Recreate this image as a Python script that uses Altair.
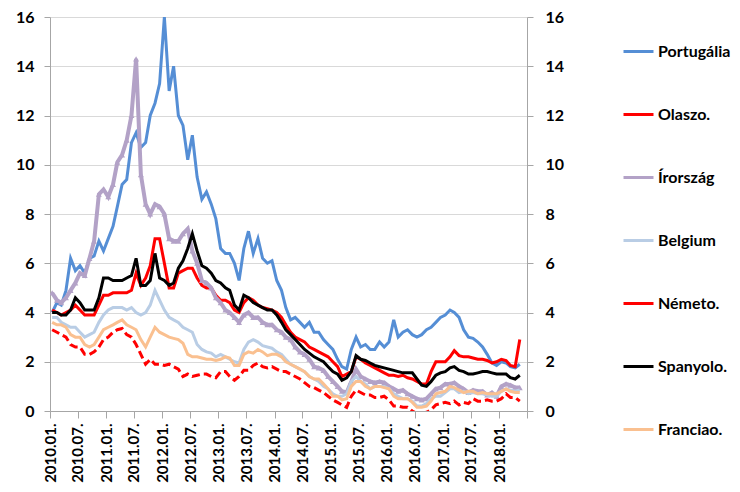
import altair as alt
import pandas as pd

series_names = ["Portugália", "Olaszo.", "Írország", "Belgium", "Németo.", "Spanyolo.", "Franciao."]
series_colors = ["#558ED5", "#FF0000", "#B3A2C7", "#B9CDE5", "#FF0000", "#000000", "#FAC090"]

# monthly values, 2010-01 ... 2018-05
portugal = [
    4.0, 4.4, 4.3, 4.9, 6.2, 5.7, 5.9, 5.6, 6.2, 6.3, 6.9, 6.5,
    7.0, 7.5, 8.3, 9.2, 9.4, 10.9, 11.3, 10.7, 10.9, 12.0, 12.5, 13.3,
    16.0, 13.0, 14.0, 12.0, 11.6, 10.2, 11.2, 9.5, 8.6, 8.9, 8.4, 7.8,
    6.6, 6.4, 6.4, 6.0, 5.3, 6.6, 7.3, 6.4, 7.0, 6.2, 6.0, 6.1,
    5.3, 4.9, 4.2, 3.7, 3.8, 3.6, 3.4, 3.6, 3.2, 3.2, 2.9, 2.7,
    2.5, 2.1, 1.8, 1.7, 2.5, 3.0, 2.6, 2.7, 2.5, 2.5, 2.8, 2.6,
    2.8, 3.7, 3.0, 3.2, 3.3, 3.1, 3.0, 3.1, 3.3, 3.4, 3.6, 3.8,
    3.9, 4.1, 4.0, 3.8, 3.3, 3.0, 2.95, 2.8, 2.6, 2.3, 1.95, 1.85,
    2.0, 1.95, 1.8, 1.75, 1.9,
]
italy = [
    4.1, 4.0, 3.9, 4.0, 4.1, 4.3, 4.1, 3.9, 3.9, 3.9, 4.3, 4.7,
    4.7, 4.8, 4.8, 4.8, 4.8, 4.9, 5.6, 5.1, 5.4, 5.9, 7.0, 7.0,
    6.0, 5.0, 5.0, 5.6, 5.7, 5.8, 5.8, 5.4, 5.1, 5.0, 5.0, 4.7,
    4.5, 4.5, 4.4, 4.1, 4.0, 4.4, 4.6, 4.5, 4.3, 4.2, 4.15, 4.1,
    4.0, 3.8, 3.5, 3.2, 3.0, 2.9, 2.8, 2.6, 2.5, 2.4, 2.3, 2.2,
    2.0, 1.8, 1.4, 1.5, 1.6, 2.2, 2.1, 1.95, 1.85, 1.75, 1.65, 1.55,
    1.45, 1.45, 1.4, 1.45, 1.35, 1.3, 1.2, 1.1, 1.1, 1.6, 2.0, 2.0,
    2.0, 2.2, 2.45, 2.25, 2.2, 2.2, 2.15, 2.1, 2.1, 2.05, 1.95, 2.0,
    2.1, 2.05, 1.85, 1.8, 2.9,
]
ireland = [
    4.8, 4.5, 4.4, 4.6, 4.9, 5.2, 5.6, 5.5, 6.2, 6.9, 8.8, 9.0,
    8.7, 9.2, 10.1, 10.4, 11.0, 12.0, 14.3, 9.6, 8.4, 8.0, 8.4, 8.3,
    8.0, 7.0, 6.9, 6.9, 7.2, 7.4, 6.5, 6.0, 5.3, 5.2, 5.0, 4.6,
    4.4, 4.1, 4.0, 3.8, 3.6, 3.9, 4.0, 3.8, 3.8, 3.6, 3.5, 3.5,
    3.3, 3.2, 3.0, 2.9, 2.6, 2.4, 2.3, 2.1, 1.8, 1.75, 1.65, 1.4,
    1.2, 1.0, 0.8, 0.75, 1.2, 1.7, 1.4, 1.3, 1.2, 1.15, 1.2, 1.15,
    1.0, 0.9, 0.8, 0.85, 0.7, 0.6, 0.5, 0.45, 0.5, 0.7, 0.9, 0.95,
    1.1, 1.1, 1.15, 1.0, 0.9, 0.75, 0.85, 0.8, 0.8, 0.65, 0.75, 0.6,
    1.0, 1.1, 1.05, 0.95, 0.95,
]
belgium = [
    3.8, 3.8, 3.6, 3.5, 3.4, 3.4, 3.2, 3.0, 3.1, 3.2, 3.6, 3.9,
    4.1, 4.2, 4.2, 4.2, 4.1, 4.2, 4.0, 3.9, 4.0, 4.3, 4.9, 4.5,
    4.1, 3.8, 3.7, 3.6, 3.4, 3.3, 3.2, 2.7, 2.5, 2.4, 2.35, 2.2,
    2.3, 2.2, 2.1, 2.0, 1.95, 2.5, 2.8, 2.9, 2.8, 2.65, 2.6, 2.55,
    2.4, 2.3, 2.1, 1.9, 1.8, 1.7, 1.6, 1.4, 1.3, 1.2, 1.0, 0.9,
    0.7, 0.6, 0.6, 0.7, 1.2, 1.4, 1.2, 1.1, 0.9, 1.0, 1.0, 1.0,
    0.9, 0.7, 0.6, 0.5, 0.5, 0.4, 0.2, 0.2, 0.3, 0.5, 0.6, 0.6,
    0.75, 0.9, 0.9, 0.75, 0.8, 0.7, 0.75, 0.7, 0.7, 0.65, 0.6, 0.6,
    0.8, 0.9, 0.85, 0.8, 0.85,
]
germany = [
    3.3, 3.2, 3.1, 3.0, 2.7, 2.6, 2.6, 2.3, 2.3, 2.4, 2.6, 2.9,
    3.0, 3.2, 3.3, 3.35, 3.1, 3.0, 2.7, 2.3, 1.9, 2.1, 1.9, 1.9,
    1.85, 1.9, 1.8, 1.7, 1.4, 1.5, 1.4, 1.45, 1.5, 1.5, 1.4, 1.35,
    1.6, 1.6, 1.4, 1.25, 1.4, 1.65, 1.65, 1.85, 1.95, 1.8, 1.75, 1.8,
    1.7, 1.6, 1.6, 1.5, 1.4, 1.3, 1.15, 1.0, 0.95, 0.85, 0.75, 0.6,
    0.45, 0.35, 0.25, 0.15, 0.6, 0.85, 0.75, 0.65, 0.65, 0.55, 0.55, 0.6,
    0.45, 0.2, 0.2, 0.15, 0.15, 0.0, -0.1, -0.1, -0.05, 0.05, 0.25, 0.3,
    0.35, 0.3, 0.4, 0.25, 0.35, 0.3, 0.5, 0.4, 0.4, 0.45, 0.4, 0.4,
    0.5, 0.7, 0.55, 0.55, 0.4,
]
spain = [
    4.0, 4.0, 3.9, 3.9, 4.1, 4.6, 4.4, 4.1, 4.1, 4.1, 4.6, 5.4,
    5.4, 5.3, 5.3, 5.3, 5.4, 5.5, 6.2, 5.1, 5.1, 5.3, 6.4, 5.4,
    5.3, 5.1, 5.2, 5.8, 6.1, 6.6, 7.2, 6.5, 5.9, 5.8, 5.6, 5.3,
    5.2, 5.0, 4.9, 4.3, 4.1, 4.7, 4.6, 4.4, 4.3, 4.2, 4.1, 4.1,
    3.9, 3.6, 3.3, 3.1, 2.9, 2.7, 2.5, 2.35, 2.2, 2.1, 2.0, 1.8,
    1.6, 1.5, 1.25, 1.35, 1.6, 2.25, 2.1, 2.05, 1.95, 1.85, 1.8, 1.75,
    1.7, 1.65, 1.6, 1.55, 1.55, 1.55, 1.3, 1.05, 1.0, 1.2, 1.45, 1.55,
    1.6, 1.75, 1.8, 1.65, 1.6, 1.5, 1.5, 1.55, 1.6, 1.6, 1.55, 1.5,
    1.5, 1.5, 1.35, 1.3, 1.45,
]
france = [
    3.6, 3.5, 3.5, 3.4, 3.1, 3.0, 3.0, 2.7, 2.6, 2.7, 3.0, 3.3,
    3.4, 3.5, 3.6, 3.7, 3.5, 3.4, 3.3, 2.9, 2.6, 3.0, 3.4, 3.2,
    3.1, 3.0, 2.95, 2.9, 2.75, 2.3, 2.2, 2.2, 2.15, 2.1, 2.1, 2.05,
    2.1, 2.2, 2.15, 1.85, 1.85, 2.3, 2.4, 2.35, 2.5, 2.4, 2.25, 2.3,
    2.3, 2.2, 2.0, 1.9, 1.8, 1.7, 1.6, 1.4, 1.3, 1.3, 1.1, 0.9,
    0.6, 0.6, 0.45, 0.5, 1.0, 1.2, 1.2, 1.0, 0.9, 1.0, 1.0, 0.95,
    0.9, 0.6, 0.5, 0.5, 0.5, 0.35, 0.15, 0.15, 0.2, 0.4, 0.7, 0.75,
    0.8, 1.0, 0.95, 0.85, 0.75, 0.8, 0.8, 0.7, 0.75, 0.7, 0.7, 0.7,
    0.8, 0.9, 0.8, 0.75, 0.75,
]

all_values = [portugal, italy, ireland, belgium, germany, spain, france]

rows = []
for name, vals in zip(series_names, all_values):
    for i, v in enumerate(vals):
        rows.append({"date": f"{2010 + i // 12}-{i % 12 + 1:02d}-15", "value": v, "series": name})
df = pd.DataFrame(rows)

tick_dates = [alt.DateTime(year=2010 + k // 2, month=1 + 6 * (k % 2), date=1, utc=True) for k in range(18)]

x_enc = alt.X(
    "date:T",
    scale=alt.Scale(type="utc", domain=[alt.DateTime(year=2010, month=1, date=1, utc=True),
                                        alt.DateTime(year=2018, month=7, date=1, utc=True)]),
    axis=alt.Axis(values=tick_dates, grid=False, labelAngle=270, labelAlign="right", labelBaseline="middle",
                  labelExpr="datum.value >= 1530000000000 ? '' : utcFormat(datum.value, '%Y.%m.')",
                  tickSize=7, labelPadding=5, labelFontSize=15, labelOverlap=False, domainColor="#A6A6A6"),
    title=None,
)
yvals = [0, 2, 4, 6, 8, 10, 12, 14, 16]
y_scale = alt.Scale(domain=[0, 16], nice=False)
y_left = alt.Y("value:Q", scale=y_scale,
               axis=alt.Axis(values=yvals, orient="left", grid=True, tickSize=6, labelPadding=10, domainColor="#A6A6A6"),
               title=None)
y_right = alt.Y("value:Q", scale=y_scale,
                axis=alt.Axis(values=yvals, orient="right", grid=False, tickSize=6, labelPadding=12, domainColor="#A6A6A6"),
                title=None)
y_none = alt.Y("value:Q", scale=y_scale, axis=None, title=None)

color_enc = alt.Color(
    "series:N",
    scale=alt.Scale(domain=series_names, range=series_colors),
    legend=alt.Legend(orient="none", legendX=572, legendY=18, direction="vertical", title=None,
                      symbolType="stroke", symbolSize=900, symbolStrokeWidth=3,
                      labelFont="Lato", labelFontSize=16, labelFontWeight="bold", labelColor="#000000",
                      rowPadding=38, labelOffset=3),
)

layers = []
for idx, name in enumerate(series_names):
    if idx == 0:
        y_enc = y_left
    elif idx == 1:
        y_enc = y_right
    else:
        y_enc = y_none
    props = dict(strokeWidth=3, clip=True)
    if name == "Németo.":
        props["strokeDash"] = [8, 4]
    if name == "Írország":
        props["strokeWidth"] = 4
    layer = alt.Chart(df).transform_filter(alt.datum.series == name).mark_line(**props).encode(
        x=x_enc, y=y_enc, color=color_enc
    )
    layers.append(layer)
    if name == "Írország":
        pts = alt.Chart(df).transform_filter(alt.datum.series == name).mark_point(
            shape="triangle-up", filled=True, size=35, opacity=1, color="#B3A2C7", clip=True
        ).encode(x=x_enc, y=y_none)
        layers.append(pts)

chart = alt.layer(*layers).resolve_axis(y="independent").properties(
    width=477, height=394,
    autosize=alt.AutoSizeParams(type="none"),
    padding={"left": 42, "top": 9, "right": 205, "bottom": 73},
).configure_view(stroke=None).configure_axis(
    labelFont="Lato", labelFontWeight="bold", labelFontSize=16, labelColor="#000000",
    gridColor="#D9D9D9", tickColor="#A6A6A6", domainColor="#A6A6A6",
)

chart.save("out.html", embed_options={"renderer": "svg", "actions": False})
